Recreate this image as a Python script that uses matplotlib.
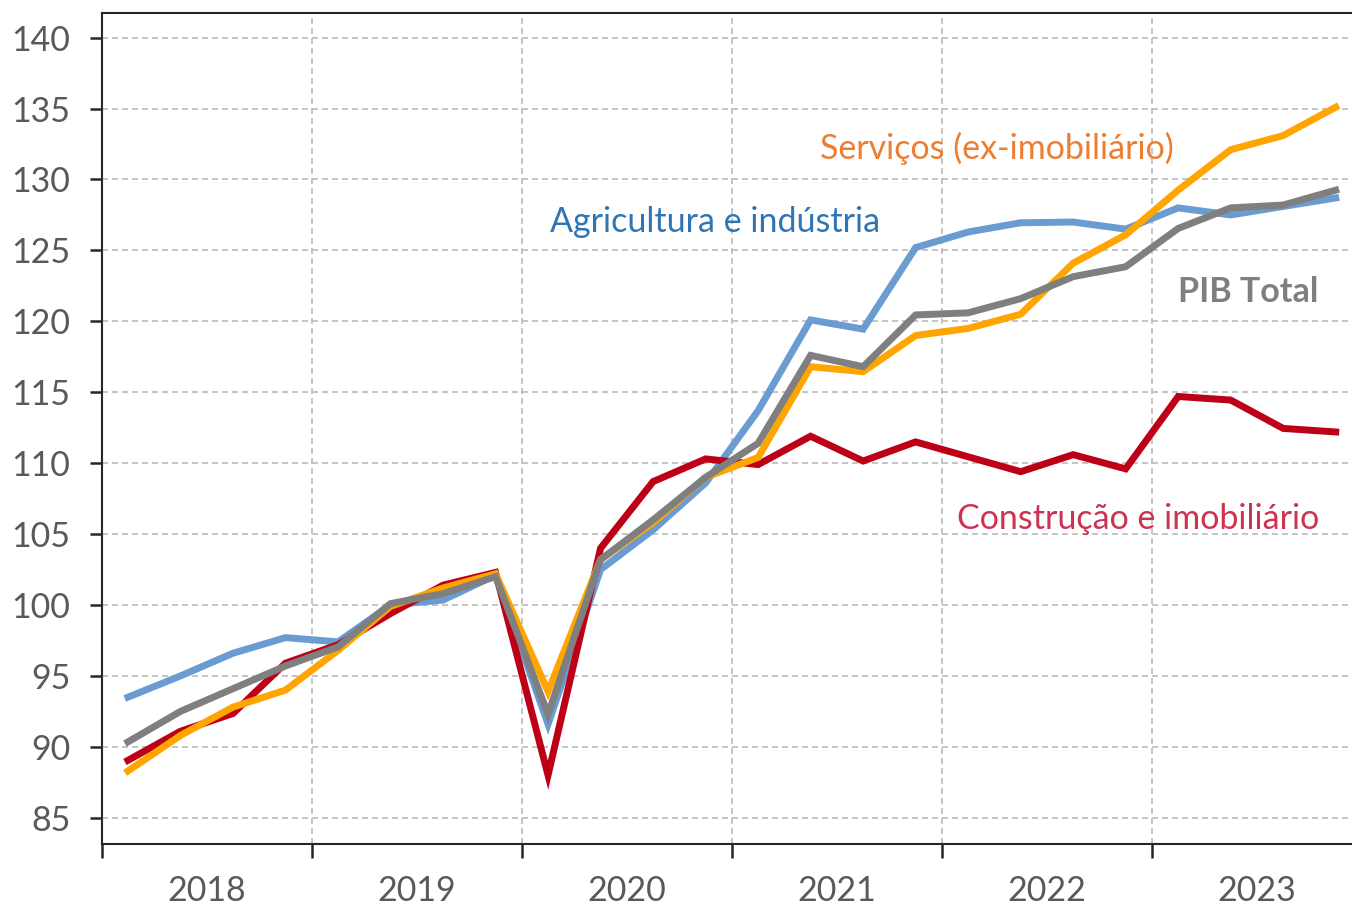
import matplotlib
matplotlib.use('Agg')
import matplotlib.pyplot as plt
import numpy as np

plt.rcParams['font.family'] = ['Lato', 'DejaVu Sans']
plt.rcParams['lines.scale_dashes'] = False

# dados trimestrais 2018T1 - 2023T4
years = ['2018', '2019', '2020', '2021', '2022', '2023']
agricultura = [93.5, 95.0, 96.6, 97.7, 97.4, 100.0, 100.35, 102.1,
               91.6, 102.5, 105.3, 108.6, 113.7, 120.1, 119.45, 125.2,
               126.3, 126.95, 127.0, 126.5, 128.0, 127.5, 128.1, 128.7]
construcao = [89.05, 91.1, 92.35, 95.9, 97.2, 99.4, 101.4, 102.3,
              88.0, 104.0, 108.7, 110.3, 109.9, 111.9, 110.15, 111.5,
              110.45, 109.4, 110.6, 109.6, 114.7, 114.45, 112.45, 112.2]
servicos = [88.3, 90.8, 92.8, 94.0, 96.8, 99.9, 101.2, 102.2,
            93.9, 103.2, 105.8, 109.0, 110.4, 116.8, 116.45, 119.0,
            119.5, 120.5, 124.1, 126.1, 129.25, 132.1, 133.1, 135.1]
pib = [90.35, 92.5, 94.1, 95.7, 97.05, 100.1, 100.8, 102.0,
       92.3, 103.2, 106.0, 109.0, 111.4, 117.6, 116.8, 120.45,
       120.6, 121.6, 123.15, 123.85, 126.55, 128.0, 128.2, 129.25]

x = np.arange(len(pib))

fig = plt.figure(figsize=(13.52, 9.06), dpi=100)
ax = fig.add_axes([101.7 / 1352, 1 - 844 / 906, 1 - 101.7 / 1352, (844 - 12.7) / 906])

ax.plot(x, agricultura, color='#6A9BD1', lw=5, solid_joinstyle='miter', zorder=3)
ax.plot(x, construcao, color='#BE0017', lw=5, solid_joinstyle='miter', zorder=3)
ax.plot(x, servicos, color='#FFA500', lw=5, solid_joinstyle='miter', zorder=3)
ax.plot(x, pib, color='#7F7F7F', lw=5, solid_joinstyle='miter', zorder=3)

# eixos
ax.set_yticks(np.arange(85, 141, 5))
bounds = np.arange(-0.5, 24, 4)
ax.set_xticks(bounds)
ax.set_xticklabels([])
ax.set_xticks(np.arange(1.5, 24, 4), minor=True)
ax.set_xticklabels(years, minor=True)
ax.set_xlim(-0.5, 23.31)
ax.set_ylim(83.15, 141.76)
ax.tick_params(axis='y', direction='out', length=8.6, width=1.8, color='#262626',
               labelsize=24.5, labelcolor='#595959', pad=14)
ax.tick_params(axis='x', which='major', direction='out', length=10, width=1.8,
               color='#262626')
ax.tick_params(axis='x', which='minor', length=0, labelsize=24.5,
               labelcolor='#595959', pad=22)

for s in ['left', 'bottom', 'top']:
    ax.spines[s].set_color('#262626')
    ax.spines[s].set_linewidth(1.5)
ax.spines['right'].set_visible(False)

# grelha
for v in np.arange(85, 141, 5):
    ax.axhline(v, color='#BFBFBF', lw=1.3, dashes=(4.3, 2.9), zorder=1)
for b in bounds[1:-1]:
    ax.axvline(b, color='#BFBFBF', lw=1.3, dashes=(4.3, 2.9), zorder=1)

# rótulos das séries
ax.text(13.18, 132.2, 'Serviços (ex-imobiliário)', color='#ED7D31', fontsize=24.5,
        ha='left', va='center')
ax.text(8.04, 127.0, 'Agricultura e indústria', color='#2E75B6', fontsize=24.5,
        ha='left', va='center')
ax.text(20.0, 122.07, 'PIB Total', color='#7F7F7F', fontsize=24.5, fontweight='bold',
        ha='left', va='center')
ax.text(15.79, 106.06, 'Construção e imobiliário', color='#CC3350', fontsize=24.5,
        ha='left', va='center')

fig.savefig('out.png', dpi=100)
